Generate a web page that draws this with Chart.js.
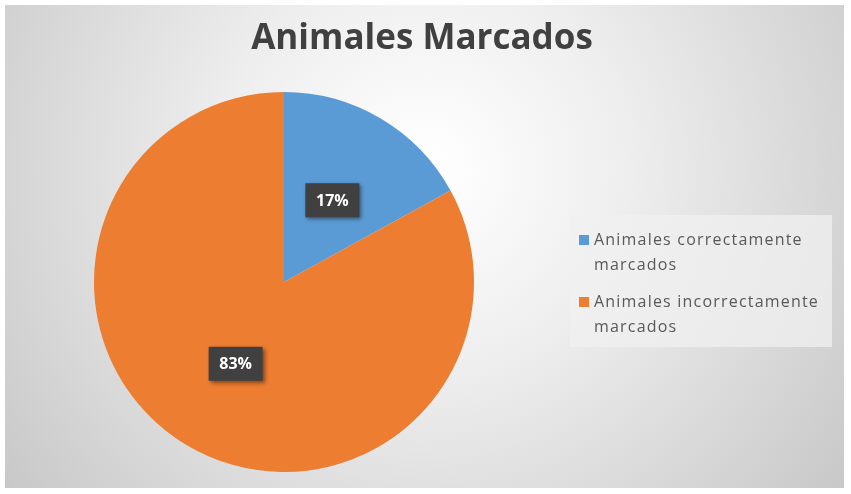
<!DOCTYPE html>
<html>
<head>
<meta charset="utf-8">
<script src="https://cdn.jsdelivr.net/npm/chart.js@4"></script>
<style>
  html, body { margin: 0; padding: 0; background: #ffffff; }
  #wrap { position: relative; width: 851px; height: 494px; }
</style>
</head>
<body>
<div id="wrap"><canvas id="chart" width="851" height="494"></canvas></div>
<script>
// Data
const chartTitle = 'Animales Marcados';
const categories = ['Animales correctamente marcados', 'Animales incorrectamente marcados'];
const percentages = [17, 83];
const sliceColors = ['#5b9bd5', '#ed7d31'];

// Background: white margin + radial grey gradient
const backgroundPlugin = {
    id: 'bg',
    beforeDraw(chart) {
        const ctx = chart.ctx;
        ctx.save();
        ctx.fillStyle = '#ffffff';
        ctx.fillRect(0, 0, chart.width, chart.height);
        const g = ctx.createRadialGradient(425, 170, 10, 425, 170, 560);
        g.addColorStop(0, '#ffffff');
        g.addColorStop(0.35, '#eeeeee');
        g.addColorStop(1, '#c4c4c4');
        ctx.fillStyle = g;
        ctx.fillRect(5, 5, 839, 483);
        ctx.restore();
    }
};

// Title, dark data label boxes, and the wrapped legend on the right
const overlayPlugin = {
    id: 'overlay',
    afterDraw(chart) {
        const ctx = chart.ctx;
        ctx.save();

        // title
        ctx.fillStyle = '#404040';
        ctx.font = 'bold 35px "Open Sans", "Noto Sans", sans-serif';
        ctx.textAlign = 'center';
        ctx.textBaseline = 'middle';
        ctx.fillText(chartTitle, 422, 39);

        // data labels
        const meta = chart.getDatasetMeta(0);
        meta.data.forEach((arc, i) => {
            const p = arc.tooltipPosition();
            const w = 54, h = 34;
            ctx.shadowColor = 'rgba(0,0,0,0.45)';
            ctx.shadowBlur = 4;
            ctx.shadowOffsetX = 2;
            ctx.shadowOffsetY = 2;
            ctx.fillStyle = '#404040';
            ctx.fillRect(p.x - w / 2, p.y - h / 2, w, h);
            ctx.shadowColor = 'transparent';
            ctx.fillStyle = '#ffffff';
            ctx.font = 'bold 16px "Open Sans", "Noto Sans", sans-serif';
            ctx.fillText(percentages[i] + '%', p.x, p.y + 1);
        });

        // legend box
        ctx.fillStyle = 'rgba(240,240,240,0.75)';
        ctx.fillRect(570, 215, 262, 132);
        ctx.font = '16px "Open Sans", "Noto Sans", sans-serif';
        ctx.letterSpacing = '1.2px';
        ctx.textAlign = 'left';
        ctx.textBaseline = 'middle';
        let y = 240;
        categories.forEach((label, i) => {
            ctx.fillStyle = sliceColors[i];
            ctx.fillRect(579, y - 5, 10, 10);
            ctx.fillStyle = '#595959';
            // wrap to the box width
            const words = label.split(' ');
            let line = '';
            const lines = [];
            words.forEach(wd => {
                const test = line ? line + ' ' + wd : wd;
                if (ctx.measureText(test).width > 236 && line) {
                    lines.push(line);
                    line = wd;
                } else {
                    line = test;
                }
            });
            lines.push(line);
            lines.forEach((ln, k) => ctx.fillText(ln, 594, y + k * 25));
            y += 62;
        });
        ctx.restore();
    }
};

new Chart(document.getElementById('chart'), {
    type: 'pie',
    data: {
        labels: categories,
        datasets: [{
            data: percentages,
            backgroundColor: sliceColors,
            borderWidth: 0
        }]
    },
    options: {
        responsive: false,
        animation: false,
        layout: { padding: { left: 94, top: 92, right: 377, bottom: 22 } },
        plugins: {
            legend: { display: false },
            title: { display: false },
            tooltip: { enabled: false }
        }
    },
    plugins: [backgroundPlugin, overlayPlugin]
});
</script>
</body>
</html>
